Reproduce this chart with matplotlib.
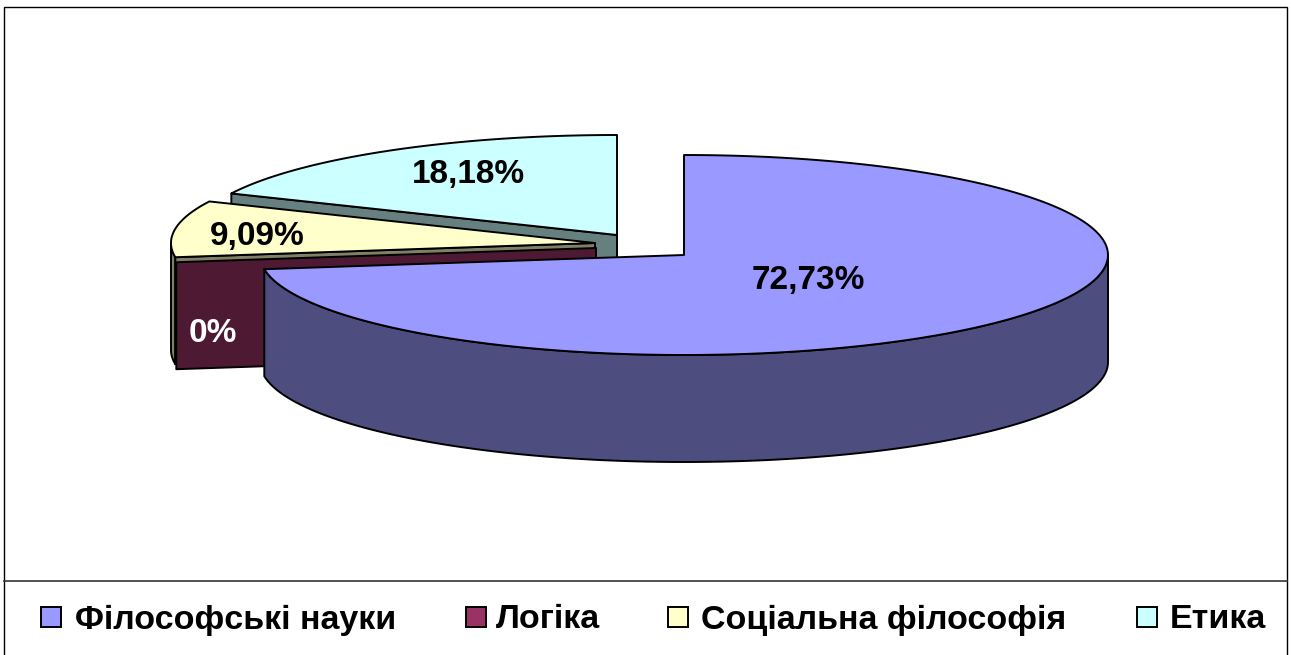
#!/usr/bin/env python3
"""Exploded 3D style pie chart drawn with flat polygons."""

import numpy as np
import matplotlib
matplotlib.use('Agg')
import matplotlib.pyplot as plt
from matplotlib.patches import Polygon, Rectangle

categories = ['Філософські науки', 'Логіка', 'Соціальна філософія', 'Етика']
values = [72.73, 0, 9.09, 18.18]
top_colors = ['#9999FF', '#993366', '#FFFFCC', '#CCFFFF']
side_colors = ['#4D4D80', '#4D1933', '#808066', '#668080']

# slice centres after the explode, in pixels
centers = [(684, 255), (596, 248), (595, 243), (617, 235)]
label_pos = [(808, 281), (213, 334), (257, 236), (468, 174)]
label_colors = ['black', 'white', 'black', 'black']
legend_box_x = [41, 466, 668, 1137]
legend_text_x = [75, 496, 701, 1170]

RX, RY, DEPTH = 424, 100, 107
LW = 1.4

plt.rcParams['font.family'] = ['Liberation Sans', 'DejaVu Sans']

fig = plt.figure(figsize=(12.91, 6.55), dpi=100)
ax = fig.add_axes([0, 0, 1, 1])
ax.set_xlim(0, 1291)
ax.set_ylim(655, 0)
ax.axis('off')


def rim(center, a0, a1, dy=0, n=200):
    # angles in degrees, clockwise from 12 o'clock
    t = np.radians(np.linspace(a0, a1, n))
    return np.column_stack([center[0] + RX * np.sin(t),
                            center[1] - RY * np.cos(t) + dy])


def draw_slice(i, a0, a1):
    c = centers[i]
    # outer wall, only the front half of the ellipse shows
    w0, w1 = max(a0, 90), min(a1, 270)
    if w1 > w0:
        wall = np.vstack([rim(c, w0, w1), rim(c, w1, w0, dy=DEPTH)])
        ax.add_patch(Polygon(wall, fc=side_colors[i], ec='black', lw=LW,
                             joinstyle='round'))
    # cut face at the start of the slice, faces the viewer on the left half
    if a0 > 180:
        start = rim(c, a0, a0, n=1)[0]
        face = [c, start, (start[0], start[1] + DEPTH), (c[0], c[1] + DEPTH)]
        ax.add_patch(Polygon(face, fc=side_colors[i], ec='black', lw=LW,
                             joinstyle='round'))
    # top surface
    if a1 > a0:
        top = np.vstack([[c], rim(c, a0, a1)])
        ax.add_patch(Polygon(top, fc=top_colors[i], ec='black', lw=LW,
                             joinstyle='round'))


angles = np.concatenate([[0], np.cumsum(values) / sum(values) * 360])

# back slices first so the big one ends up in front
for i in [3, 2, 1, 0]:
    draw_slice(i, angles[i], angles[i + 1])

for v, pos, col in zip(values, label_pos, label_colors):
    txt = '0%' if v == 0 else f'{v:.2f}%'.replace('.', ',')
    ax.text(pos[0], pos[1], txt, color=col, fontsize=24, fontweight='bold',
            ha='center', va='center')

# outer frame and legend
ax.add_patch(Rectangle((4, 7), 1283, 660, fc='none', ec='black', lw=1.0,
                       clip_on=True))
ax.plot([4, 1287], [580.5, 580.5], color='#333333', lw=1.2)

for name, col, bx, tx in zip(categories, top_colors, legend_box_x, legend_text_x):
    ax.add_patch(Rectangle((bx, 607), 20, 20, fc=col, ec='black', lw=LW))
    ax.text(tx, 620, name, fontsize=24.5, fontweight='bold', ha='left',
            va='center')

fig.savefig('out.png', dpi=100)
